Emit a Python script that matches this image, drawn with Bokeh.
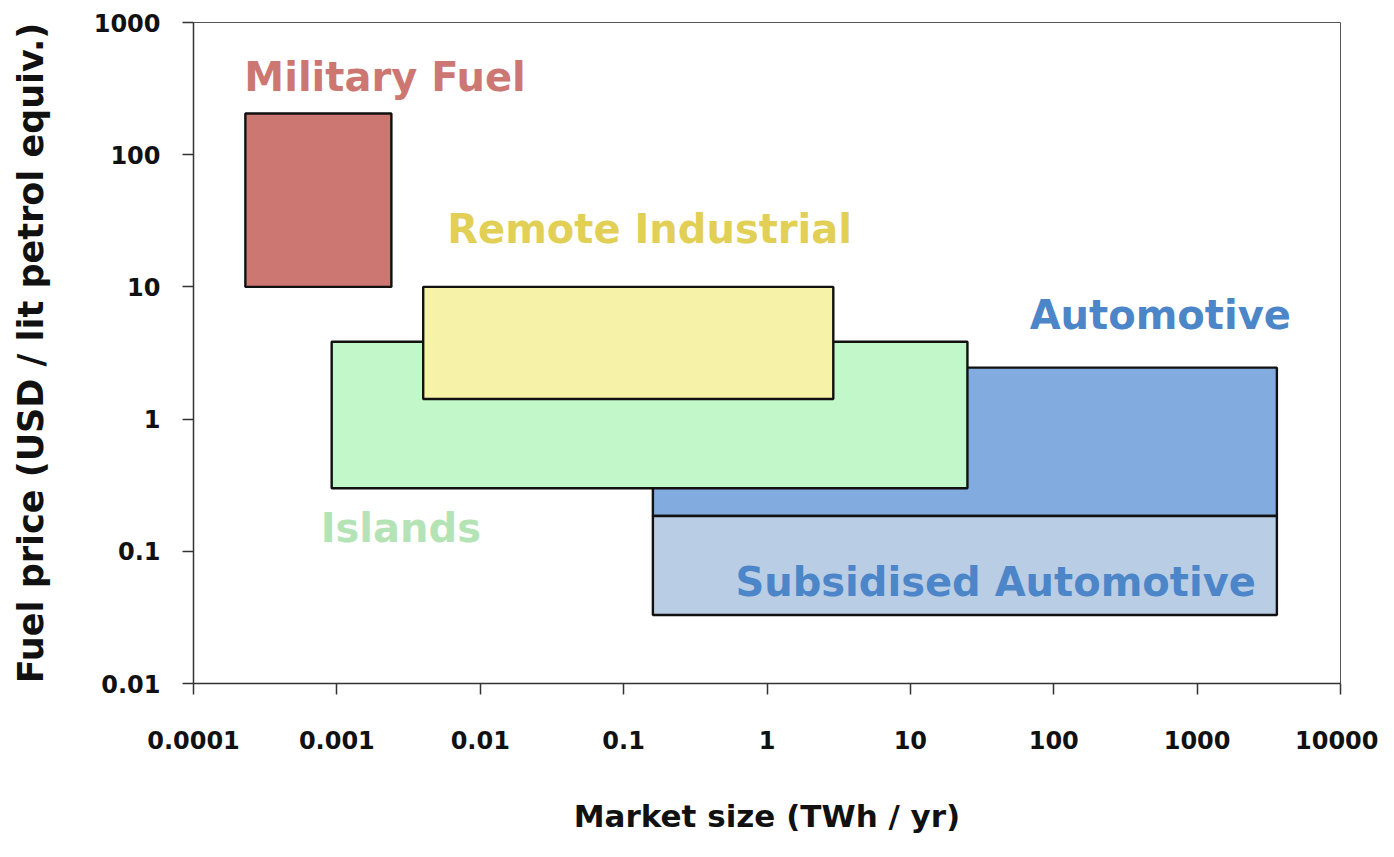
from bokeh.plotting import figure
from bokeh.models import FixedTicker, ColumnDataSource
from bokeh.core.properties import value
from bokeh.embed import file_html
from bokeh.resources import INLINE

# ---- data ----
segments = ["Military Fuel", "Automotive", "Subsidised Automotive", "Islands", "Remote Industrial"]
x_left = [0.00023, 0.16, 0.16, 0.00092, 0.004]
x_right = [0.0024, 3600, 3600, 25, 2.9]
y_bottom = [10, 0.185, 0.033, 0.30, 1.42]
y_top = [205, 2.45, 0.185, 3.85, 10]
fills = ["#cd7773", "#82acdf", "#b9cde5", "#c1f7c9", "#f6f2a7"]

x_ticks = [0.0001, 0.001, 0.01, 0.1, 1, 10, 100, 1000, 10000]
x_tick_labels = ["0.0001", "0.001", "0.01", "0.1", "1", "10", "100", "1000", "10000"]
y_ticks = [0.01, 0.1, 1, 10, 100, 1000]
y_tick_labels = ["0.01", "0.1", "1", "10", "100", "1000"]

x_title = "Market size (TWh / yr)"
y_title = "Fuel price (USD / lit petrol equiv.)"

FONT = "DejaVu Sans"

p = figure(width=1378, height=841, x_axis_type="log", y_axis_type="log",
           x_range=(x_ticks[0], x_ticks[-1]), y_range=(y_ticks[0], y_ticks[-1]),
           output_backend="svg", toolbar_location=None,
           min_border_left=193, min_border_right=38, min_border_top=22, min_border_bottom=158)
p.grid.visible = False
p.outline_line_color = "#555555"
p.outline_line_width = 1

src = ColumnDataSource(dict(left=x_left, right=x_right, bottom=y_bottom, top=y_top, fill=fills))
p.quad(left="left", right="right", bottom="bottom", top="top", source=src,
       fill_color="fill", fill_alpha=1.0, line_color="#111111", line_width=2.4)

# ---- labels anchored to their boxes ----
idx = {s: i for i, s in enumerate(segments)}
shift = -16
lab = dict(
    text=["Military Fuel", "Remote Industrial", "Automotive", "Islands", "Subsidised Automotive"],
    x=[x_left[idx["Military Fuel"]], x_left[idx["Remote Industrial"]], x_right[idx["Automotive"]],
       x_left[idx["Islands"]], x_right[idx["Subsidised Automotive"]]],
    y=[y_top[idx["Military Fuel"]], y_top[idx["Remote Industrial"]], y_top[idx["Automotive"]],
       y_bottom[idx["Islands"]], y_bottom[idx["Subsidised Automotive"]]],
    xo=[-1, 24, 14, -11, -21],
    yo=[-20 + shift, -42 + shift, -37 + shift, 56 + shift, -17 + shift],
    align=["left", "left", "right", "left", "right"],
    color=["#cd7773", "#e2cf55", "#4c86c8", "#b4e4b5", "#4c86c8"],
)
p.text(x="x", y="y", text="text", x_offset="xo", y_offset="yo", text_align="align",
       text_color="color", text_baseline="alphabetic", text_font=value(FONT),
       text_font_style="bold", text_font_size="40px", source=ColumnDataSource(lab))

# ---- axes ----
for ax, ticks, labels in ((p.xaxis[0], x_ticks, x_tick_labels), (p.yaxis[0], y_ticks, y_tick_labels)):
    ax.ticker = FixedTicker(ticks=ticks, minor_ticks=[])
    ax.major_label_overrides = {t: l for t, l in zip(ticks, labels)}
    ax.major_tick_in = 0
    ax.major_tick_out = 11
    ax.minor_tick_line_color = None
    ax.axis_line_color = "#333333"
    ax.axis_line_width = 1.5
    ax.major_tick_line_color = "#333333"
    ax.major_tick_line_width = 1.5
    ax.major_label_text_font = FONT
    ax.major_label_text_font_style = "bold"
    ax.major_label_text_font_size = "24px"
    ax.major_label_text_color = "#111111"
    ax.axis_label_text_font = FONT
    ax.axis_label_text_font_style = "bold"
    ax.axis_label_text_color = "#111111"

p.xaxis.axis_label = x_title
p.xaxis.axis_label_text_font_size = "31px"
p.xaxis.major_label_standoff = 36
p.xaxis.axis_label_standoff = 46

p.yaxis.axis_label = y_title
p.yaxis.axis_label_text_font_size = "35px"
p.yaxis.major_label_standoff = 22
p.yaxis.axis_label_standoff = 40

open("out.html", "w").write(file_html(p, INLINE))
